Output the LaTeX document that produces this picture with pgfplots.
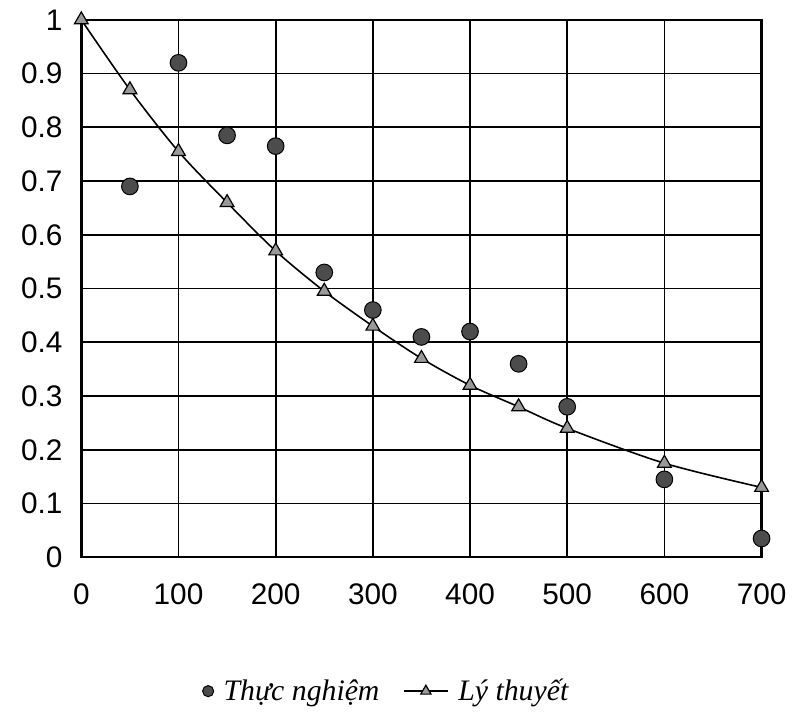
\documentclass[border=0pt]{standalone}
\usepackage{fontspec}
\setmainfont{Liberation Sans}
\newfontfamily\legfont{Liberation Serif}
\usepackage{pgfplots}
\pgfplotsset{compat=1.18}
\pgfplotsset{trilegend/.style={legend image code/.code={
  \draw[##1,mark repeat=2,mark phase=2,mark size=3pt]
    plot coordinates {(0pt,0pt) (11pt,0pt) (22pt,0pt)};}}}

\begin{document}
\begin{tikzpicture}
\begin{axis}[
  scale only axis, width=343pt, height=271pt,
  xmin=0, xmax=700, ymin=0, ymax=1,
  xtick={0,100,...,700},
  ytick={0,0.1,...,1.0},
  grid=major, major grid style={black,line width=0.9pt},
  axis line style={black,line width=1.2pt},
  major tick length=0pt,
  tick label style={font=\fontsize{15pt}{17pt}\selectfont},
  /pgf/number format/assume math mode=true,
  yticklabel style={/pgf/number format/fixed,/pgf/number format/precision=1,xshift=-6pt},
  xticklabel style={yshift=-10pt},
  legend style={at={(0.45,0)},anchor=center,yshift=-67.5pt,draw=none,
                legend columns=2,font=\legfont\itshape\fontsize{15pt}{17pt}\selectfont,
                /tikz/every odd column/.append style={column sep=3pt},
                /tikz/every even column/.append style={column sep=10pt}},
  legend cell align=left,
]
\coordinate (sw) at (rel axis cs:0,0);
\coordinate (ne) at (rel axis cs:1,1);
% measured points
\addplot[only marks, mark=*, mark size=4.2pt,
         mark options={fill=black!70,draw=black,line width=0.5pt},
         legend image post style={mark size=2.8pt}]
  coordinates {(50,0.69) (100,0.92) (150,0.785) (200,0.765) (250,0.53)
               (300,0.46) (350,0.41) (400,0.42) (450,0.36) (500,0.28)
               (600,0.145) (700,0.035)};
% theoretical curve
\addplot[black, line width=0.8pt, smooth, mark=triangle*, mark size=4pt,
         mark options={fill=black!40,draw=black,line width=0.6pt}, trilegend]
  coordinates {(0,1.0) (50,0.87) (100,0.755) (150,0.66) (200,0.57) (250,0.495)
               (300,0.43) (350,0.37) (400,0.32) (450,0.28) (500,0.24)
               (600,0.175) (700,0.13)};
\legend{Thực nghiệm, Lý thuyết}
\end{axis}
\path ([xshift=-41pt,yshift=-79pt]sw) rectangle ([xshift=12.5pt,yshift=10pt]ne);
\end{tikzpicture}
\end{document}
